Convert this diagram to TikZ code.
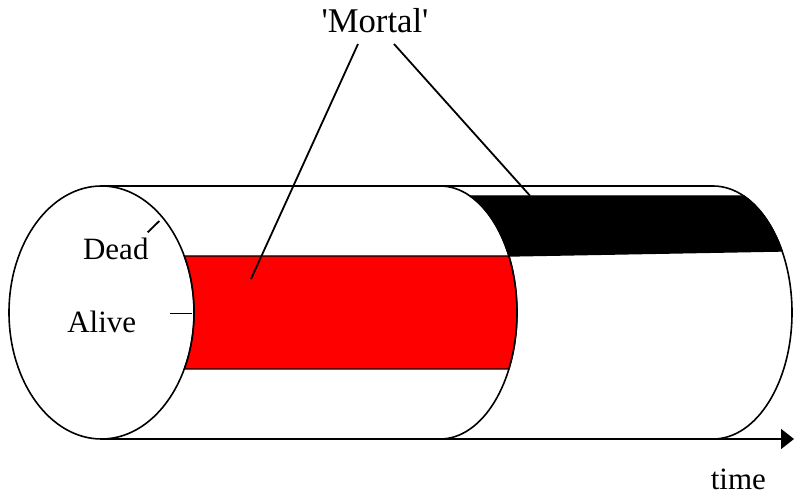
\documentclass[tikz,border=0pt]{standalone}
\usepackage{fontspec}
\setmainfont{Liberation Serif}
\usetikzlibrary{arrows.meta,calc}
\begin{document}
\begin{tikzpicture}[x=1pt,y=1pt,
  outline/.style={line width=1.6pt,black},
  band/.style={line width=1.4pt,draw=black},
  lbl/.style={inner sep=0pt,anchor=base,font=\fontsize{31}{31}\selectfont},
  conn/.style={line width=1.8pt,black}]
\useasboundingbox (0,0) rectangle (794,495);
% centres of the ellipses
\coordinate (lc) at (101.5,182.5);
\coordinate (mc) at (440,182.5);
\coordinate (rc) at (713,182.5);
% red band (alive and mortal)
\filldraw[band,fill=red] ($(lc)+(26.53:92.5 and 126.5)$) -- ($(mc)+(26.53:77 and 126.5)$)
  arc[start angle=26.53,end angle=-26.53,x radius=77,y radius=126.5]
  -- ($(lc)+(-26.53:92.5 and 126.5)$)
  arc[start angle=-26.53,end angle=26.53,x radius=92.5,y radius=126.5] -- cycle;
% black band (dead and mortal)
\filldraw[band,fill=black] ($(mc)+(67.1:77 and 126.5)$) -- ($(rc)+(67.1:79 and 126.5)$)
  arc[start angle=67.1,end angle=29.1,x radius=79,y radius=126.5]
  -- ($(mc)+(26.53:77 and 126.5)$)
  arc[start angle=26.53,end angle=67.1,x radius=77,y radius=126.5] -- cycle;
% cylinder outline
\draw[outline] (lc) ellipse[x radius=92.5,y radius=126.5];
\draw[outline] ($(lc)+(0,126.5)$) -- ($(rc)+(0,126.5)$);
\draw[outline] ($(mc)+(0,126.5)$) arc[start angle=90,end angle=-90,x radius=77,y radius=126.5];
\draw[outline] ($(rc)+(0,126.5)$) arc[start angle=90,end angle=-90,x radius=79,y radius=126.5];
\coordinate (tstart) at ($(lc)+(0,-126.5)$);
\coordinate (tend) at (794,56);
\draw[outline,-{Triangle[length=13pt,width=20pt]}] (tstart) -- (tend);
% labels
\node[lbl,font=\fontsize{34.7}{34.7}\selectfont] (mortal) at (375,462) {\textquotesingle Mortal\textquotesingle};
\node[lbl] (dead) at (115.8,235.7) {Dead};
\node[lbl] (alive) at (101.7,162.3) {Alive};
\node[lbl] (time) at (738.4,6) {time};
% connectors
\coordinate (m1) at (358,451);
\coordinate (m2) at (394,451);
\coordinate (pred) at (251,216);
\coordinate (pblack) at (530,299.3);
\draw[conn] (m1) -- (pred);
\draw[conn] (m2) -- (pblack);
\coordinate (d1) at (147.7,262.7);
\coordinate (d2) at (159.3,274);
\draw[conn] (d1) -- (d2);
\coordinate (a1) at (170,181.7);
\coordinate (a2) at (191.7,181.7);
\draw[line width=1.3pt] (a1) -- (a2);
\end{tikzpicture}
\end{document}
